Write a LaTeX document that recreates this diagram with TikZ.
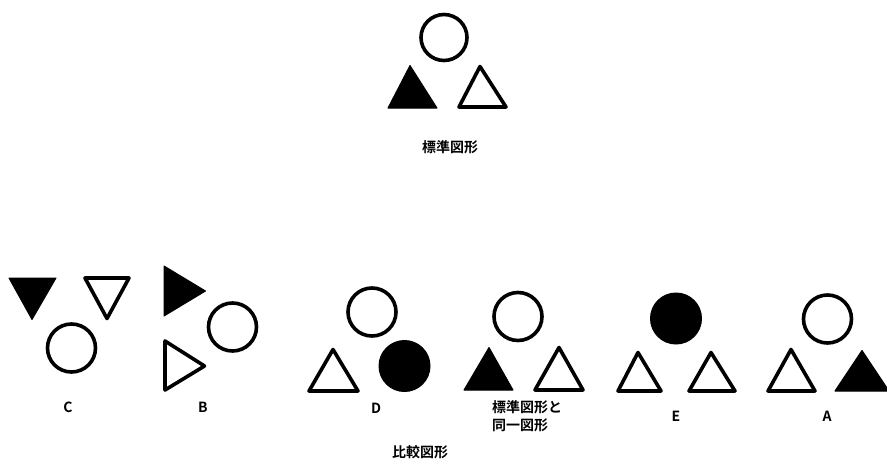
\documentclass[tikz,border=0pt]{standalone}
\usepackage{fontspec}
\newfontfamily\jpfont[BoldFont={Noto Sans CJK JP Bold}]{Noto Sans CJK JP}
\begin{document}
\begin{tikzpicture}[x=1pt,y=-1pt,
  open/.style={draw=black,line width=3.6pt,line join=round,fill=white},
  solid/.style={draw=black,line width=1pt,line join=round,fill=black},
  lbl/.style={font=\jpfont\bfseries\fontsize{14}{15}\selectfont,inner sep=0pt}]
\useasboundingbox (0,0) rectangle (887,464);
% upward triangle: left x, right x, apex x, top y, base y
\newcommand\UpTri[6]{\draw[#1] (#2+2,#6-2) -- (#3-2,#6-2) -- (#4,#5+2.5) -- cycle;}
% downward triangle: left x, right x, apex x, top y, apex y
\newcommand\DownTri[6]{\draw[#1] (#2+2,#5+2) -- (#3-2,#5+2) -- (#4,#6-2.5) -- cycle;}
% rightward triangle: left x, top y, bottom y, apex x, apex y
\newcommand\RightTri[6]{\draw[#1] (#2+2,#3+2) -- (#5-2.5,#6) -- (#2+2,#4-2) -- cycle;}

% standard figure
\draw[open] (444,37.5) circle (23);
\UpTri{solid}{386}{439}{410}{63}{110}
\UpTri{open}{457}{508}{480}{64}{109}
\node[lbl] (std) at (450,147) {標準図形};

% C
\DownTri{solid}{7}{58}{32}{276}{322}
\DownTri{open}{83}{131}{107}{276}{321}
\draw[open] (71.5,348) circle (24);
\node[lbl] (c) at (68,407) {C};

% B
\RightTri{solid}{162}{264}{318}{208}{291}
\draw[open] (232.5,327) circle (24);
\RightTri{open}{163}{339}{392}{207}{366}
\node[lbl] (b) at (203,407) {B};

% D
\draw[open] (372,312) circle (24);
\UpTri{open}{307}{360}{333}{347}{393}
\draw[solid] (404.5,366) circle (25.5);
\node[lbl] (d) at (376,408) {D};

% identical to the standard figure
\draw[open] (518,316.5) circle (24);
\UpTri{solid}{462}{515}{489}{345}{392}
\UpTri{open}{533}{585}{559}{345}{392}
\node[lbl,align=left,anchor=north west,font=\jpfont\bfseries\fontsize{14}{18.5}\selectfont] (same) at (492,400) {標準図形と\\同一図形};

% E
\draw[solid] (676,318.5) circle (25.5);
\UpTri{open}{616}{663}{638}{350}{393}
\UpTri{open}{687}{737}{711}{350}{393}
\node[lbl] (e) at (676,416) {E};

% A
\draw[open] (827.5,319) circle (24);
\UpTri{open}{766}{817}{791}{347}{393}
\UpTri{solid}{833}{891}{862}{348}{393}
\node[lbl] (a) at (827,416) {A};

\node[lbl] (cmp) at (420,452) {比較図形};
\end{tikzpicture}
\end{document}
